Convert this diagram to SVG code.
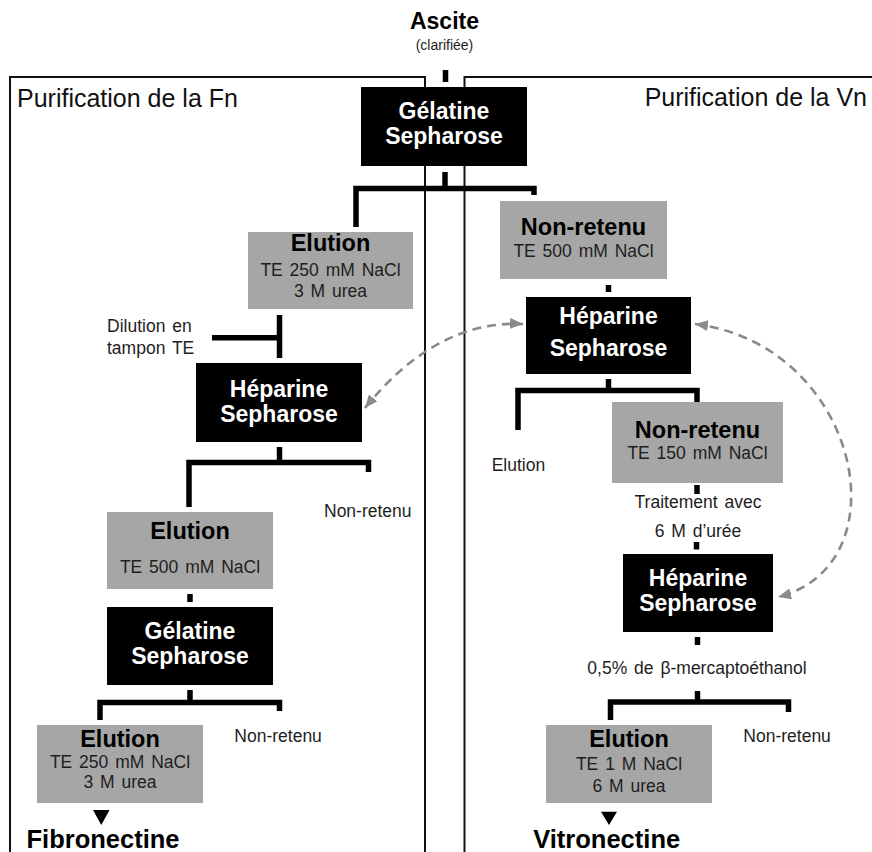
<svg xmlns="http://www.w3.org/2000/svg" width="872" height="852" viewBox="0 0 872 852">
<style>
text{font-family:"Liberation Sans",Arial,sans-serif}
.frame{fill:none;stroke:#111;stroke-width:2}
.con{fill:none;stroke:#000;stroke-width:5.5}
.dash{fill:none;stroke:#8a8a8a;stroke-width:2.6;stroke-dasharray:9 6}
.gray{fill:#a6a6a6}
.blk{fill:#000}
.hb{font-weight:bold;font-size:23.5px;fill:#000;text-anchor:middle}
.hw{font-weight:bold;font-size:23px;fill:#fff;text-anchor:middle}
.sub{font-size:17.5px;fill:#1e1e1e;text-anchor:middle;word-spacing:2px}
.lab{font-size:17.5px;fill:#1e1e1e;word-spacing:2px}
.title{font-size:25px;fill:#111}
.fin{font-weight:bold;font-size:25.5px;fill:#000;text-anchor:middle}
</style>
<defs>
<marker id="ah" viewBox="0 0 13 11" refX="13" refY="5.5" markerWidth="13" markerHeight="11" markerUnits="userSpaceOnUse" orient="auto-start-reverse">
<path d="M0,0 L13,5.5 L0,11 z" fill="#8a8a8a"/>
</marker>
</defs>
<rect width="872" height="852" fill="#fff"/>
<g id="frames">
<path class="frame" d="M10,852 V77 H425 V852"/>
<path class="frame" d="M872,77 H464.5 V852"/>
<text class="title" x="17" y="107">Purification de la Fn</text>
<text class="title" x="867" y="106" text-anchor="end">Purification de la Vn</text>
</g>
<g id="ascite">
<text x="444.5" y="28.5" font-weight="bold" font-size="23" text-anchor="middle" fill="#000">Ascite</text>
<text x="444.5" y="50" font-size="14" text-anchor="middle" fill="#1e1e1e">(clarifiée)</text>
</g>
<g id="connectors">
<path class="con" d="M445.5,70 V82"/>
<path class="con" d="M445,172 V188"/>
<path class="con" d="M356,227 V188.5 H534 V195"/>
<path class="con" d="M279.5,315 V358 M212,337.7 H279.5"/>
<path class="con" d="M279.5,447 V462"/>
<path class="con" d="M189,507 V462.5 H368.5 V472"/>
<path class="con" d="M190,594 V602"/>
<path class="con" d="M190,690 V702"/>
<path class="con" d="M100,720 V702.5 H279.5 V711"/>
<path class="con" d="M608.5,285 V292"/>
<path class="con" d="M608.5,379 V390"/>
<path class="con" d="M518,430 V390.5 H697 V402"/>
<path class="con" d="M697,485 V494"/>
<path class="con" d="M696.5,542 V549.5"/>
<path class="con" d="M697.5,637 V645"/>
<path class="con" d="M697.5,691 V702"/>
<path class="con" d="M610.5,720 V702 H788.5 V712"/>
<path d="M93,810 L109.5,810 L101.3,825 z" fill="#000"/>
<path d="M601,811.7 L617,811.7 L609,825 z" fill="#000"/>
<path class="dash" d="M365,408 Q436,320 523,324" marker-start="url(#ah)" marker-end="url(#ah)"/>
<path class="dash" d="M695,324 C860,345 905,565 778,597" marker-start="url(#ah)" marker-end="url(#ah)"/>
</g>
<g id="gelatine1">
<rect class="blk" x="361" y="87" width="166" height="79"/>
<text class="hw" x="444" y="118.5">Gélatine</text>
<text class="hw" x="444" y="143.5">Sepharose</text>
</g>
<g id="elution1">
<rect class="gray" x="248" y="232" width="165" height="77"/>
<text class="hb" x="330.5" y="251" font-size="23">Elution</text>
<text class="sub" x="330.5" y="275.7">TE 250 mM NaCl</text>
<text class="sub" x="330.5" y="297.3">3 M urea</text>
</g>
<g id="dilution">
<text class="lab" x="107" y="331.7">Dilution en</text>
<text class="lab" x="107" y="354">tampon TE</text>
</g>
<g id="heparine1">
<rect class="blk" x="196" y="363" width="166" height="79"/>
<text class="hw" x="279" y="396.5">Héparine</text>
<text class="hw" x="279" y="421.5">Sepharose</text>
</g>
<g id="nonretenu1">
<text class="lab" x="324" y="516.7">Non-retenu</text>
</g>
<g id="elution2">
<rect class="gray" x="107" y="512" width="166" height="77"/>
<text class="hb" x="190" y="539.3" font-size="23">Elution</text>
<text class="sub" x="190" y="572.7">TE 500 mM NaCl</text>
</g>
<g id="gelatine2">
<rect class="blk" x="107" y="607" width="166" height="78"/>
<text class="hw" x="190" y="639">Gélatine</text>
<text class="hw" x="190" y="664">Sepharose</text>
</g>
<g id="nonretenu2">
<text class="lab" x="234.3" y="741.7">Non-retenu</text>
</g>
<g id="elution3">
<rect class="gray" x="37" y="725" width="166" height="78"/>
<text class="hb" x="120" y="746.7" font-size="23">Elution</text>
<text class="sub" x="120" y="768.3">TE 250 mM NaCl</text>
<text class="sub" x="120" y="788.3">3 M urea</text>
</g>
<g id="fibronectine">
<text class="fin" x="103" y="848">Fibronectine</text>
</g>
<g id="nonretenuR1">
<rect class="gray" x="500" y="201" width="167" height="78"/>
<text class="hb" x="583.5" y="235">Non-retenu</text>
<text class="sub" x="583.5" y="257.3">TE 500 mM NaCl</text>
</g>
<g id="heparineR1">
<rect class="blk" x="526" y="297" width="165" height="77"/>
<text class="hw" x="608.5" y="324">Héparine</text>
<text class="hw" x="608.5" y="356">Sepharose</text>
</g>
<g id="elutionR">
<text class="lab" x="491.7" y="470.7">Elution</text>
</g>
<g id="nonretenuR2">
<rect class="gray" x="612" y="402" width="171" height="81"/>
<text class="hb" x="697.5" y="438.3">Non-retenu</text>
<text class="sub" x="697.5" y="459.3">TE 150 mM NaCl</text>
</g>
<g id="traitement">
<text class="sub" x="698" y="508.3" word-spacing="5">Traitement avec</text>
<text class="sub" x="698" y="537.3">6 M d’urée</text>
</g>
<g id="heparineR3">
<rect class="blk" x="623" y="554" width="150" height="78"/>
<text class="hw" x="698" y="585.5">Héparine</text>
<text class="hw" x="698" y="610.5">Sepharose</text>
</g>
<g id="mercapto">
<text class="sub" x="697" y="674">0,5% de β-mercaptoéthanol</text>
</g>
<g id="nonretenuR3">
<text class="lab" x="743.3" y="741.7">Non-retenu</text>
</g>
<g id="elution4">
<rect class="gray" x="546" y="725" width="166" height="78"/>
<text class="hb" x="629" y="746.7" font-size="23">Elution</text>
<text class="sub" x="629" y="770">TE 1 M NaCl</text>
<text class="sub" x="629" y="792.3">6 M urea</text>
</g>
<g id="vitronectine">
<text class="fin" x="606.7" y="848">Vitronectine</text>
</g>
</svg>
